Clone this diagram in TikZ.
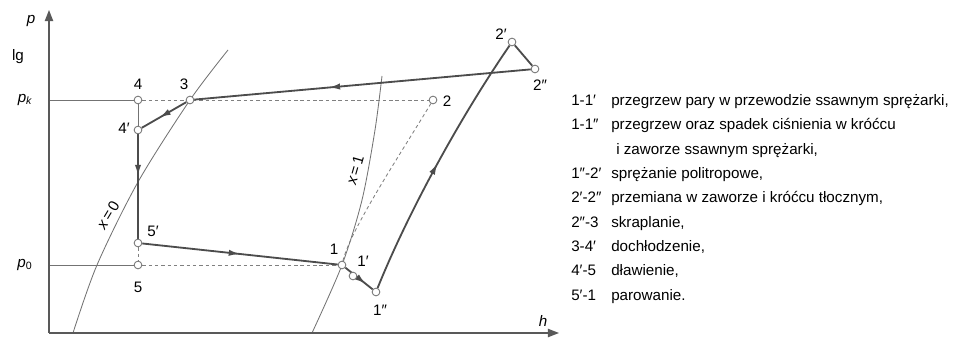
\documentclass[tikz,border=0pt]{standalone}
\usepackage{fontspec}
\setmainfont{Liberation Sans}
\usetikzlibrary{arrows.meta, positioning, backgrounds, decorations.markings}

\begin{document}
\begin{tikzpicture}[
  x=0.025cm, y=-0.025cm,
  font=\fontsize{10.8pt}{13pt}\selectfont,
  pt/.style       = {circle, draw=black!55, fill=white, line width=0.6pt,
                     inner sep=0pt, minimum size=5.5pt},
  lbl/.style      = {inner sep=1pt},
  proc/.style     = {line width=1.3pt, color=black!70},
  isoline/.style  = {line width=0.6pt, color=black!55},
  guide/.style    = {line width=0.6pt, color=black!55},
  dashline/.style = {line width=0.6pt, color=black!50, dash pattern=on 2.5pt off 2pt},
  axis/.style     = {line width=0.9pt, color=black!65, -{Triangle[length=8pt, width=6pt]}},
  midarrow/.style = {postaction={decorate}, decoration={markings,
                     mark=at position #1 with {\arrow{Latex[length=8pt, width=4.5pt]}}}},
  leg/.style      = {anchor=base west, inner sep=0pt},
]
  \useasboundingbox (0,0) rectangle (954,340);

  % axes
  \coordinate (O)    at (49,333);
  \coordinate (ytop) at (49,10);
  \coordinate (xend) at (559,333);
  \coordinate (pkax) at (49,100);
  \coordinate (p0ax) at (49,265);
  \draw[axis] (O) -- (ytop);
  \draw[axis] (O) -- (xend);

  \node[lbl] (lp)  at (31,21)  {\itshape p};
  \node[lbl] (llg) at (18,57)  {lg};
  \node[lbl] (lpk) at (25,100) {\itshape p\textsubscript{k}};
  \node[lbl] (lp0) at (25,265) {\itshape p\textsubscript{\upshape 0}};
  \node[lbl] (lh)  at (543,321) {\itshape h};

  % state points
  \node[pt] (p4)  at (138,100) {};
  \node[pt] (p3)  at (190,100) {};
  \node[pt] (p4a) at (138,130) {};
  \node[pt] (p5a) at (138,243) {};
  \node[pt] (p5)  at (138,265) {};
  \node[pt] (p1)  at (342,265) {};
  \node[pt] (p1a) at (353,276) {};
  \node[pt] (p1b) at (376,292) {};
  \node[pt] (p2)  at (433,100) {};
  \node[pt] (p2a) at (512,42)  {};
  \node[pt] (p2b) at (535,69)  {};

  \node[lbl] (l4)  at (138,84)  {4};
  \node[lbl] (l3)  at (184,84)  {3};
  \node[lbl] (l4a) at (124,128) {4′};
  \node[lbl] (l5a) at (153,231) {5′};
  \node[lbl] (l5)  at (138,287) {5};
  \node[lbl] (l1)  at (334,249) {1};
  \node[lbl] (l1a) at (363,261) {1′};
  \node[lbl] (l1b) at (380,310) {1″};
  \node[lbl] (l2)  at (447,101) {2};
  \node[lbl] (l2a) at (501,34)  {2′};
  \node[lbl] (l2b) at (540,85)  {2″};

  \node[lbl, rotate=59] (lx0) at (108,215) {\itshape x\upshape\,=\,0};
  \node[lbl, rotate=74] (lx1) at (355,170) {\itshape x\upshape\,=\,1};

  \begin{scope}[on background layer]
    % saturation lines
    \draw[isoline] plot[smooth] coordinates {(73,333) (97,265) (138,182) (190,100) (228,50)};
    \draw[isoline] plot[smooth] coordinates {(312,333) (342,265) (362,200) (375,130) (382,76)};

    \draw[guide] (pkax) -- (p4);
    \draw[guide] (p0ax) -- (p5);
    \draw[guide] (p4) -- (p4a);
    \draw[dashline] (p4) -- (p2);
    \draw[dashline] (p5) -- (p1);
    \draw[dashline] (p5a) -- (p5);
    \draw[dashline] (p1) .. controls +(8,-35) and +(-30,50) .. (p2);

    % cycle
    \draw[proc, midarrow=0.6]  (p2b) -- (p3);
    \draw[proc, midarrow=0.6]  (p3)  -- (p4a);
    \draw[proc, midarrow=0.4]  (p4a) -- (p5a);
    \draw[proc, midarrow=0.5]  (p5a) -- (p1);
    \draw[proc, midarrow=0.75] (p1)  -- (p1b);
    \draw[proc, midarrow=0.5]  (p1b) .. controls +(29,-72) and +(-57,83) .. (p2a);
    \draw[proc] (p2a) -- (p2b);
  \end{scope}

  % legend
  \node[leg] (c1) at (571,105.5) {1-1′};
  \node[leg] (d1) at (611,105.5) {przegrzew pary w przewodzie ssawnym sprężarki,};
  \node[leg] (c2) at (571,130)   {1-1″};
  \node[leg] (d2) at (611,130)   {przegrzew oraz spadek ciśnienia w króćcu};
  \node[leg] (d3) at (616,154.5) {i zaworze ssawnym sprężarki,};
  \node[leg] (c4) at (571,178.5) {1″-2′};
  \node[leg] (d4) at (611,178.5) {sprężanie politropowe,};
  \node[leg] (c5) at (571,203)   {2′-2″};
  \node[leg] (d5) at (611,203)   {przemiana w zaworze i króćcu tłocznym,};
  \node[leg] (c6) at (571,227.5) {2″-3};
  \node[leg] (d6) at (611,227.5) {skraplanie,};
  \node[leg] (c7) at (571,252)   {3-4′};
  \node[leg] (d7) at (611,252)   {dochłodzenie,};
  \node[leg] (c8) at (571,276)   {4′-5};
  \node[leg] (d8) at (611,276)   {dławienie,};
  \node[leg] (c9) at (571,300.5) {5′-1};
  \node[leg] (d9) at (611,300.5) {parowanie.};
\end{tikzpicture}
\end{document}
